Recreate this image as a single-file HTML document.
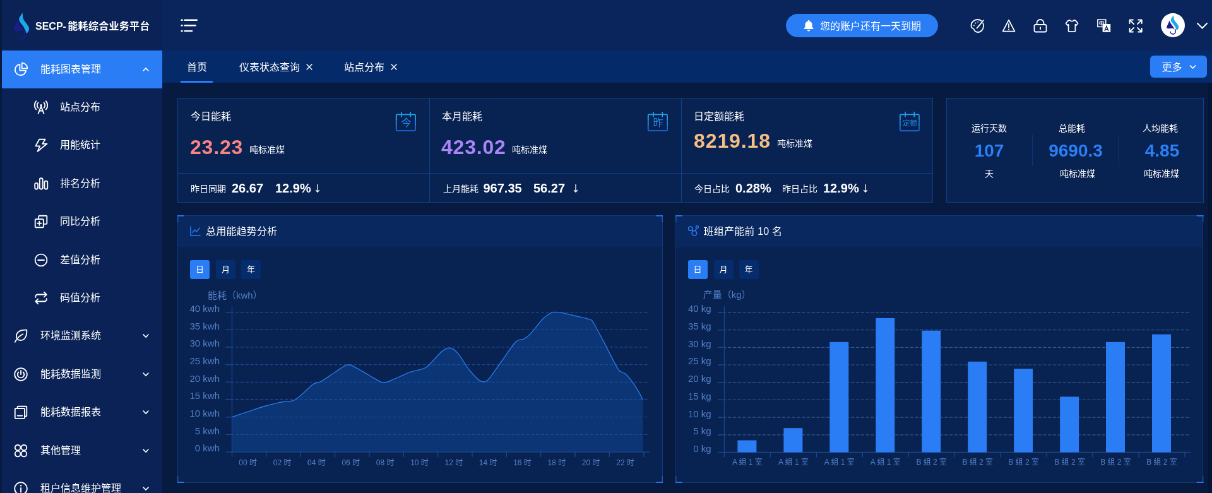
<!DOCTYPE html>
<html lang="zh-CN">
<head>
<meta charset="utf-8">
<title>SECP- 能耗综合业务平台</title>
<style>
*{box-sizing:border-box;margin:0;padding:0}
html,body{width:1212px;height:493px;overflow:hidden;background:#071a40}
body{font-family:"Liberation Sans","Noto Sans CJK SC",sans-serif;color:#fff}
#app{position:absolute;left:0;top:0;width:1920px;height:781px;transform:scale(0.63125);transform-origin:0 0;background:#071a40;overflow:hidden}
#fx{will-change:transform;position:absolute;left:-20px;top:-20px;width:1960px;height:821px;filter:blur(0.45px)}
#stage{position:absolute;left:20px;top:20px;width:1920px;height:781px}
.abs{position:absolute}
/* sidebar */
#side{position:absolute;left:3px;top:-20px;width:254px;height:821px;background:#0a2255;border-top:20px solid #0a2255;border-bottom:20px solid #0a2255}
#logo{position:absolute;left:0;top:0;width:254px;height:80px}
#logo .t{position:absolute;left:53px;top:30px;font-size:16px;line-height:24px;font-weight:bold;white-space:nowrap;letter-spacing:0}
.mi{position:absolute;left:0;width:254px;height:60px;font-size:16px;line-height:60px;white-space:nowrap}
.mi.act{background:#2a7df5}
.mi .tx{position:absolute;left:61px;top:0}
.mi.sub .tx{left:92px}
.mi svg.ic{position:absolute;left:17.5px;top:18px;width:24px;height:24px}
.mi.sub svg.ic{left:49.5px}
.mi svg.ch{position:absolute;left:222px;top:25px;width:12px;height:10px}
/* header */
#head{position:absolute;left:257px;top:-20px;width:1683px;height:100px;background:#09255b;border-top:20px solid #09255b;border-right:20px solid #09255b}
#tabs{position:absolute;left:257px;top:80px;width:1683px;height:51px;border-right:20px solid #042a69;background:#042a69;font-size:16px;line-height:51px}
#tabs .tb{position:absolute;top:0.5px;white-space:nowrap}
#pill{position:absolute;left:988px;top:22px;width:241px;height:37px;border-radius:19px;background:#2a7df5;font-size:16px;line-height:37px}
#pill span{position:absolute;left:54px;top:0.5px;white-space:nowrap}
#more{position:absolute;left:1565px;top:8px;width:90px;height:35px;border-radius:6px;background:#2a7df5;font-size:16px;line-height:35px}
/* cards */
.card{position:absolute;background:#082252;border:1px solid #123f86}
.ct{position:absolute;font-size:16px;line-height:20px;white-space:nowrap}
.big{position:absolute;font-size:32px;line-height:36px;font-weight:bold;white-space:nowrap}
.un{position:absolute;font-size:14px;line-height:18px;white-space:nowrap}
.bn{position:absolute;font-size:20px;line-height:24px;font-weight:bold;white-space:nowrap}
.panel{position:absolute;background:#082252;border:1px solid #103a7d}
.ph{position:absolute;left:0;top:0;right:0;height:50px;background:#09285f}
.ph .t{position:absolute;left:44px;top:0;letter-spacing:0.2px;font-size:16px;line-height:50px;white-space:nowrap}
.btn{position:absolute;top:70px;width:31px;height:30px;border-radius:3px;background:#052c6d;font-size:13px;line-height:30px;text-align:center}
.btn.on{background:#2a7df5}
svg text{font-family:"Liberation Sans","Noto Sans CJK SC",sans-serif}
</style>
</head>
<body>
<div id="app"><div id="fx"><div id="stage">

<!-- SIDEBAR -->
<div id="side">
  <div id="logo">
    <svg class="abs" style="left:6.8px;top:15.5px;width:49px;height:52px" viewBox="0 0 38.28 38.07" preserveAspectRatio="none"><path d="M19.9 2.9 C18.5 6 15.5 8 15.8 10.8 C16.2 14 19 16 21 19 C22.8 21.6 24 24 24.8 27.1 C27.5 25.5 28.6 23 28 20.5 C27 16.5 21.5 13 20.7 9.2 C20.3 7 20.4 5 19.9 2.9 Z" fill="#1fa6ee"/><path d="M13.6 11.6 C12.2 15.5 9.8 19.5 8.8 23.2 C11.5 24.6 15 24.4 17 23.8 C18.6 23.4 20.2 24 21.8 25.8 C20.4 21 14.8 17 13.6 11.6 Z" fill="#1a1d8c"/><path d="M22.6 25.3 C24 28 23.5 31.5 20.5 32.8 C17.5 33.8 14.8 31.8 15 28.6" fill="none" stroke="#1a1d8c" stroke-width="1.5"/></svg>
    <div class="t">SECP-<span style="margin-left:2.4px;letter-spacing:0.3px">能耗综合业务平台</span></div>
  </div>
  <div class="mi act" style="top:80px"><svg class="ic" viewBox="0 0 22 22"><path d="M9.5 3.5 A8 8 0 1 0 18.5 12.5 H9.5 Z" fill="none" stroke="#fff" stroke-width="1.7" stroke-linecap="round" stroke-linejoin="round"/><path d="M12.5 1.5 A8 8 0 0 1 20.5 9.5 H12.5 Z" fill="none" stroke="#fff" stroke-width="1.7" stroke-linecap="round" stroke-linejoin="round"/></svg><span class="tx">能耗图表管理</span><svg class="ch" viewBox="0 0 12 10"><path d="M1.5 7.5 L6 3 L10.5 7.5" fill="none" stroke="#fff" stroke-width="1.7"/></svg></div>
  <div class="mi sub" style="top:140.0px"><svg class="ic" viewBox="0 0 22 22"><path d="M11 9.5 L7 20 M11 9.5 L15 20 M8.6 16 H13.4" fill="none" stroke="#fff" stroke-width="1.7" stroke-linecap="round" stroke-linejoin="round"/><circle cx="11" cy="8" r="1.6" fill="#fff"/><path d="M6.8 4.2 A5.5 5.5 0 0 0 6.8 11.8 M15.2 4.2 A5.5 5.5 0 0 1 15.2 11.8 M3.9 2 A9 9 0 0 0 3.9 14 M18.1 2 A9 9 0 0 1 18.1 14" fill="none" stroke="#fff" stroke-width="1.7" stroke-linecap="round" stroke-linejoin="round" stroke-width="1.4"/></svg><span class="tx">站点分布</span></div>
  <div class="mi sub" style="top:200.4px"><svg class="ic" viewBox="0 0 22 22"><path d="M8.4 2.5 H17 L13 9 H19.6 L6 20 L9.2 12.2 H3.2 Z" fill="none" stroke="#fff" stroke-width="1.7" stroke-linecap="round" stroke-linejoin="round"/></svg><span class="tx">用能统计</span></div>
  <div class="mi sub" style="top:260.8px"><svg class="ic" viewBox="0 0 22 22"><rect x="2" y="10" width="4.4" height="9" rx="2.2" fill="none" stroke="#fff" stroke-width="1.7" stroke-linecap="round" stroke-linejoin="round"/><rect x="9" y="3" width="4.4" height="16" rx="2.2" fill="none" stroke="#fff" stroke-width="1.7" stroke-linecap="round" stroke-linejoin="round"/><rect x="16" y="7" width="4.4" height="12" rx="2.2" fill="none" stroke="#fff" stroke-width="1.7" stroke-linecap="round" stroke-linejoin="round"/></svg><span class="tx">排名分析</span></div>
  <div class="mi sub" style="top:321.2px"><svg class="ic" viewBox="0 0 22 22"><rect x="2.5" y="7.5" width="12" height="12" rx="1" fill="none" stroke="#fff" stroke-width="1.7" stroke-linecap="round" stroke-linejoin="round"/><path d="M7.5 7.5 V3.5 a1 1 0 0 1 1 -1 H18.5 a1 1 0 0 1 1 1 V13.5 a1 1 0 0 1 -1 1 H14.5" fill="none" stroke="#fff" stroke-width="1.7" stroke-linecap="round" stroke-linejoin="round"/><path d="M8.5 10.8 V16.2 M5.8 13.5 H11.2" fill="none" stroke="#fff" stroke-width="1.7" stroke-linecap="round" stroke-linejoin="round"/></svg><span class="tx">同比分析</span></div>
  <div class="mi sub" style="top:381.6px"><svg class="ic" viewBox="0 0 22 22"><circle cx="11" cy="11" r="8.6" fill="none" stroke="#fff" stroke-width="1.7" stroke-linecap="round" stroke-linejoin="round"/><path d="M6.5 11 H15.5" fill="none" stroke="#fff" stroke-width="1.7" stroke-linecap="round" stroke-linejoin="round"/></svg><span class="tx">差值分析</span></div>
  <div class="mi sub" style="top:442.0px"><svg class="ic" viewBox="0 0 22 22"><path d="M3 10 V9 a3 3 0 0 1 3 -3 H18.5 M15.5 2.5 L19 6 L15.5 9.5" fill="none" stroke="#fff" stroke-width="1.7" stroke-linecap="round" stroke-linejoin="round"/><path d="M19 12 V13 a3 3 0 0 1 -3 3 H3.5 M6.5 12.5 L3 16 L6.5 19.5" fill="none" stroke="#fff" stroke-width="1.7" stroke-linecap="round" stroke-linejoin="round"/></svg><span class="tx">码值分析</span></div>
  <div class="mi" style="top:502.4px"><svg class="ic" viewBox="0 0 22 22"><path d="M19.5 2.5 C10 2 4.5 5.5 4.5 11.5 C4.5 15 7 17.5 10.5 17.5 C17 17.5 20 11 19.5 2.5 Z" fill="none" stroke="#fff" stroke-width="1.7" stroke-linecap="round" stroke-linejoin="round"/><path d="M2.5 20 C5 15 9 11 14 8.5" fill="none" stroke="#fff" stroke-width="1.7" stroke-linecap="round" stroke-linejoin="round"/></svg><span class="tx">环境监测系统</span><svg class="ch" viewBox="0 0 12 10"><path d="M1.5 2.5 L6 7 L10.5 2.5" fill="none" stroke="#fff" stroke-width="1.7"/></svg></div>
  <div class="mi" style="top:562.8px"><svg class="ic" viewBox="0 0 22 22"><circle cx="11" cy="11" r="9" fill="none" stroke="#fff" stroke-width="1.7" stroke-linecap="round" stroke-linejoin="round"/><path d="M7.6 7.8 A4.8 4.8 0 1 0 14.4 7.8 M11 5.5 V11" fill="none" stroke="#fff" stroke-width="1.7" stroke-linecap="round" stroke-linejoin="round"/></svg><span class="tx">能耗数据监测</span><svg class="ch" viewBox="0 0 12 10"><path d="M1.5 2.5 L6 7 L10.5 2.5" fill="none" stroke="#fff" stroke-width="1.7"/></svg></div>
  <div class="mi" style="top:623.2px"><svg class="ic" viewBox="0 0 22 22"><path d="M6 5.5 V3.5 a1 1 0 0 1 1 -1 H18.5 a1 1 0 0 1 1 1 V16 a1 1 0 0 1 -1 1 H16.5" fill="none" stroke="#fff" stroke-width="1.7" stroke-linecap="round" stroke-linejoin="round"/><rect x="2.5" y="5.5" width="14" height="14.5" rx="1" fill="none" stroke="#fff" stroke-width="1.7" stroke-linecap="round" stroke-linejoin="round"/><path d="M6 16 H13" fill="none" stroke="#fff" stroke-width="1.7" stroke-linecap="round" stroke-linejoin="round"/></svg><span class="tx">能耗数据报表</span><svg class="ch" viewBox="0 0 12 10"><path d="M1.5 2.5 L6 7 L10.5 2.5" fill="none" stroke="#fff" stroke-width="1.7"/></svg></div>
  <div class="mi" style="top:683.6px"><svg class="ic" viewBox="0 0 22 22"><circle cx="6.5" cy="6.5" r="4" fill="none" stroke="#fff" stroke-width="1.7" stroke-linecap="round" stroke-linejoin="round"/><circle cx="15.5" cy="6.5" r="4" fill="none" stroke="#fff" stroke-width="1.7" stroke-linecap="round" stroke-linejoin="round"/><circle cx="6.5" cy="15.5" r="4" fill="none" stroke="#fff" stroke-width="1.7" stroke-linecap="round" stroke-linejoin="round"/><circle cx="15.5" cy="15.5" r="4" fill="none" stroke="#fff" stroke-width="1.7" stroke-linecap="round" stroke-linejoin="round"/></svg><span class="tx">其他管理</span><svg class="ch" viewBox="0 0 12 10"><path d="M1.5 2.5 L6 7 L10.5 2.5" fill="none" stroke="#fff" stroke-width="1.7"/></svg></div>
  <div class="mi" style="top:744.0px"><svg class="ic" viewBox="0 0 22 22"><circle cx="11" cy="11" r="9" fill="none" stroke="#fff" stroke-width="1.7" stroke-linecap="round" stroke-linejoin="round"/><path d="M11 10 V16" fill="none" stroke="#fff" stroke-width="1.7" stroke-linecap="round" stroke-linejoin="round"/><circle cx="11" cy="6.6" r="1.1" fill="#fff"/></svg><span class="tx">租户信息维护管理</span><svg class="ch" viewBox="0 0 12 10"><path d="M1.5 2.5 L6 7 L10.5 2.5" fill="none" stroke="#fff" stroke-width="1.7"/></svg></div>
</div>

<!-- HEADER -->
<div id="head">
  <svg class="abs" style="left:29px;top:29px;width:27px;height:22px" viewBox="0 0 27 22"><path d="M0.6 2.7 H3.6 M5.5 2.7 H26.7 M0.6 11.2 H3.6 M5.5 11.2 H24.6 M0.6 20.1 H3.6 M5.5 20.1 H19.1" fill="none" stroke="#fff" stroke-width="2.4"/></svg>
  <div id="pill"><svg class="abs" style="left:27px;top:9px;width:18px;height:19px" viewBox="0 0 18 19"><path d="M9 0.8 a1.4 1.4 0 0 1 1.4 1.4 v0.5 a5.6 5.6 0 0 1 4.2 5.4 v3.6 l1.8 2.4 v1 H1.6 v-1 l1.8 -2.4 V8.1 a5.6 5.6 0 0 1 4.2 -5.4 v-0.5 A1.4 1.4 0 0 1 9 0.8 Z M6.6 16.2 h4.8 a2.4 2.4 0 0 1 -4.8 0 Z" fill="#fff"/></svg><span>您的账户还有一天到期</span></div>
  <svg class="abs" style="left:1279.7px;top:29.5px;width:22px;height:22px" viewBox="0 0 22 22"><path d="M17.6 3 C16 1.8 14 1 12 1 C6 1 1.5 5 1.5 10.5 C1.5 12.8 2.2 14 3.4 14.5 C4.8 15 5.6 15.6 6.2 17.2 C7.2 19.6 9.5 21 12 21 C17 21 21 16.6 21 11 C21 9.4 20.7 8 20.1 6.7" fill="none" stroke="#fff" stroke-width="1.8" stroke-linecap="round" stroke-linejoin="round"/><path d="M20.8 2.3 L10.5 14.6" fill="none" stroke="#fff" stroke-width="1.8" stroke-linecap="round" stroke-linejoin="round"/><circle cx="8.4" cy="6.4" r="1" fill="#fff"/><circle cx="5.9" cy="10.2" r="1" fill="#fff"/><circle cx="12.2" cy="4.8" r="0.9" fill="#fff"/></svg>
  <svg class="abs" style="left:1329.6px;top:29.5px;width:22px;height:22px" viewBox="0 0 22 22"><path d="M11 1.6 L20.4 19.6 H1.6 Z" fill="none" stroke="#fff" stroke-width="1.8" stroke-linecap="round" stroke-linejoin="round"/><path d="M11 8 V13.4" fill="none" stroke="#fff" stroke-width="1.8" stroke-linecap="round" stroke-linejoin="round"/><circle cx="11" cy="16.5" r="1.1" fill="#fff"/></svg>
  <svg class="abs" style="left:1380.3px;top:29.5px;width:22px;height:22px" viewBox="0 0 22 22"><rect x="1.5" y="9" width="19" height="11.5" rx="2" fill="none" stroke="#fff" stroke-width="1.8" stroke-linecap="round" stroke-linejoin="round"/><path d="M5.5 9 V6.5 a5.5 5.5 0 0 1 11 0 V9" fill="none" stroke="#fff" stroke-width="1.8" stroke-linecap="round" stroke-linejoin="round"/><path d="M11 13.2 V16.2" fill="none" stroke="#fff" stroke-width="1.8" stroke-linecap="round" stroke-linejoin="round"/></svg>
  <svg class="abs" style="left:1430.2px;top:29.5px;width:22px;height:22px" viewBox="0 0 22 22"><path d="M7.8 1.8 C8.6 4.2 13.4 4.2 14.2 1.8 L17 2.6 L20.6 7 L18 10 L16.4 8.8 V19 Q16.4 20.2 15.2 20.2 H6.8 Q5.6 20.2 5.6 19 V8.8 L4 10 L1.4 7 L5 2.6 Z" fill="none" stroke="#fff" stroke-width="1.8" stroke-linecap="round" stroke-linejoin="round"/></svg>
  <svg class="abs" style="left:1480.9px;top:29.5px;width:22px;height:22px" viewBox="0 0 22 22"><rect x="0.9" y="1.2" width="12.8" height="11.2" fill="none" stroke="#fff" stroke-width="1.6"/><path d="M4 4.6 H10.6 V8 H4 Z M7.3 3 V10.6" fill="none" stroke="#fff" stroke-width="1.1"/><rect x="8.6" y="8" width="12.6" height="12.8" fill="#fff"/><path d="M12 19 L14.9 11.6 L17.8 19 M13 16.6 H16.8" fill="none" stroke="#09255b" stroke-width="1.4"/></svg>
  <svg class="abs" style="left:1530.8px;top:29.5px;width:22px;height:22px" viewBox="0 0 22 22"><path d="M1.5 7 V1.5 H7 M1.8 1.8 L8 8 M15 1.5 H20.5 V7 M20.2 1.8 L14 8 M1.5 15 V20.5 H7 M1.8 20.2 L8 14 M15 20.5 H20.5 V15 M20.2 20.2 L14 14" fill="none" stroke="#fff" stroke-width="1.8" stroke-linecap="round" stroke-linejoin="round"/></svg>
  <svg class="abs" style="left:1581.7px;top:20.8px;width:38px;height:38px" viewBox="0 0 38 38"><circle cx="19" cy="19" r="19" fill="#fff"/><path d="M19.9 2.9 C18.5 6 15.5 8 15.8 10.8 C16.2 14 19 16 21 19 C22.8 21.6 24 24 24.8 27.1 C27.5 25.5 28.6 23 28 20.5 C27 16.5 21.5 13 20.7 9.2 C20.3 7 20.4 5 19.9 2.9 Z" fill="#1fa6ee"/><path d="M13.6 11.6 C12.2 15.5 9.8 19.5 8.8 23.2 C11.5 24.6 15 24.4 17 23.8 C18.6 23.4 20.2 24 21.8 25.8 C20.4 21 14.8 17 13.6 11.6 Z" fill="#1a1d8c"/><path d="M22.6 25.3 C24 28 23.5 31.5 20.5 32.8 C17.5 33.8 14.8 31.8 15 28.6" fill="none" stroke="#1a1d8c" stroke-width="1.5"/></svg>
  <svg class="abs" style="left:1638px;top:35px;width:19px;height:12px" viewBox="0 0 19 12"><path d="M1.5 1.5 L9.5 9.5 L17.5 1.5" fill="none" stroke="#fff" stroke-width="2"/></svg>
</div>

<!-- TABS -->
<div id="tabs">
  <div class="tb" style="left:39px">首页</div>
  <div class="abs" style="left:29px;top:48px;width:51px;height:3px;background:#2a7df5"></div>
  <div class="tb" style="left:122px">仪表状态查询</div><svg class="abs" style="left:227.8px;top:21px;width:10px;height:10px" viewBox="0 0 10 10"><path d="M0.6 0.6 L9.4 9.4 M9.4 0.6 L0.6 9.4" stroke="#fff" stroke-width="1.4" fill="none"/></svg>
  <div class="tb" style="left:288px">站点分布</div><svg class="abs" style="left:362.2px;top:21px;width:10px;height:10px" viewBox="0 0 10 10"><path d="M0.6 0.6 L9.4 9.4 M9.4 0.6 L0.6 9.4" stroke="#fff" stroke-width="1.4" fill="none"/></svg>
  <div id="more"><span class="abs" style="left:18.5px;top:1px">更多</span>
    <svg class="abs" style="left:61.5px;top:14px;width:11px;height:8px" viewBox="0 0 11 8"><path d="M1 1.5 L5.5 6 L10 1.5" fill="none" stroke="#fff" stroke-width="1.6"/></svg>
  </div>
</div>

<div class="abs" style="left:1914px;top:131px;width:26px;height:670px;background:#061637"></div>
<div class="card" style="left:281px;top:155px;width:1197px;height:166px">
<div class="abs" style="left:398px;top:0;width:1px;height:164px;background:#123f86"></div>
<div class="abs" style="left:797px;top:0;width:1px;height:164px;background:#123f86"></div>
<div class="abs" style="left:0;top:118px;width:1195px;height:1px;background:#123f86"></div>
<div class="ct" style="left:20px;top:19px">今日能耗</div>
<div class="big" style="left:19px;top:59px;letter-spacing:0.8px;color:#f98484">23.23</div>
<div class="un" style="left:113px;top:72px">吨标准煤</div>
<svg class="abs" style="left:345px;top:21px;width:32px;height:31px" viewBox="0 0 32 31"><path d="M0.9 13 V5.9 Q0.9 4.4 2.4 4.4 H29.6 Q31.1 4.4 31.1 5.9 V13" fill="none" stroke="#23a2ea" stroke-width="1.7"/><path d="M0.9 13 V22 M31.1 13 V22" fill="none" stroke="#1f88e8" stroke-width="1.7"/><path d="M0.9 22 V28.6 Q0.9 30.1 2.4 30.1 H29.6 Q31.1 30.1 31.1 28.6 V22" fill="none" stroke="#1b70e4" stroke-width="1.7"/><path d="M9 0.3 V8.5 M23.2 0.3 V8.5" stroke="#23a2ea" stroke-width="1.7" fill="none"/><text x="16.5" y="23.2" text-anchor="middle" font-size="16" fill="#1f86e8">今</text></svg>
<div class="un" style="left:20px;top:134px">昨日同期</div>
<div class="bn" style="left:85px;top:130px">26.67</div>
<div class="bn" style="left:154px;top:130px">12.9%</div>
<svg class="abs" style="left:217px;top:135px;width:8px;height:15px" viewBox="0 0 8 15"><path d="M4 1 V13 M1.2 10 L4 13.2 L6.8 10" fill="none" stroke="#fff" stroke-width="1.3"/></svg>
<div class="ct" style="left:418px;top:19px">本月能耗</div>
<div class="big" style="left:417px;top:59px;letter-spacing:0.8px;color:#a985f6">423.02</div>
<div class="un" style="left:529px;top:72px">吨标准煤</div>
<svg class="abs" style="left:744px;top:21px;width:32px;height:31px" viewBox="0 0 32 31"><path d="M0.9 13 V5.9 Q0.9 4.4 2.4 4.4 H29.6 Q31.1 4.4 31.1 5.9 V13" fill="none" stroke="#23a2ea" stroke-width="1.7"/><path d="M0.9 13 V22 M31.1 13 V22" fill="none" stroke="#1f88e8" stroke-width="1.7"/><path d="M0.9 22 V28.6 Q0.9 30.1 2.4 30.1 H29.6 Q31.1 30.1 31.1 28.6 V22" fill="none" stroke="#1b70e4" stroke-width="1.7"/><path d="M9 0.3 V8.5 M23.2 0.3 V8.5" stroke="#23a2ea" stroke-width="1.7" fill="none"/><text x="16.5" y="23.2" text-anchor="middle" font-size="16" fill="#1f86e8">昨</text></svg>
<div class="un" style="left:420px;top:134px">上月能耗</div>
<div class="bn" style="left:483.5px;top:130px">967.35</div>
<div class="bn" style="left:563px;top:130px">56.27</div>
<svg class="abs" style="left:625.5px;top:135px;width:8px;height:15px" viewBox="0 0 8 15"><path d="M4 1 V13 M1.2 10 L4 13.2 L6.8 10" fill="none" stroke="#fff" stroke-width="1.3"/></svg>
<div class="ct" style="left:817px;top:19px">日定额能耗</div>
<div class="big" style="left:817px;top:49px;letter-spacing:0.9px;color:#f5bf85">8219.18</div>
<div class="un" style="left:949px;top:62px">吨标准煤</div>
<svg class="abs" style="left:1143px;top:21px;width:32px;height:31px" viewBox="0 0 32 31"><path d="M0.9 13 V5.9 Q0.9 4.4 2.4 4.4 H29.6 Q31.1 4.4 31.1 5.9 V13" fill="none" stroke="#23a2ea" stroke-width="1.7"/><path d="M0.9 13 V22 M31.1 13 V22" fill="none" stroke="#1f88e8" stroke-width="1.7"/><path d="M0.9 22 V28.6 Q0.9 30.1 2.4 30.1 H29.6 Q31.1 30.1 31.1 28.6 V22" fill="none" stroke="#1b70e4" stroke-width="1.7"/><path d="M9 0.3 V8.5 M23.2 0.3 V8.5" stroke="#23a2ea" stroke-width="1.7" fill="none"/><text x="16.5" y="22" text-anchor="middle" font-size="11.5" fill="#1f86e8">定额</text></svg>
<div class="un" style="left:818px;top:134px">今日占比</div>
<div class="bn" style="left:883px;top:130px">0.28%</div>
<div class="un" style="left:957px;top:134px">昨日占比</div>
<div class="bn" style="left:1022px;top:130px">12.9%</div>
<svg class="abs" style="left:1085px;top:135px;width:8px;height:15px" viewBox="0 0 8 15"><path d="M4 1 V13 M1.2 10 L4 13.2 L6.8 10" fill="none" stroke="#fff" stroke-width="1.3"/></svg>
</div>
<div class="card" style="left:1499px;top:155px;width:408px;height:166px">
<div class="abs" style="left:-1px;top:38px;width:136px;text-align:center;font-size:14px;line-height:18px">运行天数</div>
<div class="abs" style="left:-1px;top:66px;width:136px;text-align:center;font-size:28px;line-height:34px;font-weight:bold;color:#2b80f6">107</div>
<div class="abs" style="left:-1px;top:110px;width:136px;text-align:center;font-size:14px;line-height:18px">天</div>
<div class="abs" style="left:130px;top:38px;width:136px;text-align:center;font-size:14px;line-height:18px">总能耗</div>
<div class="abs" style="left:136px;top:66px;width:136px;text-align:center;font-size:28px;line-height:34px;font-weight:bold;color:#2b80f6">9690.3</div>
<div class="abs" style="left:139px;top:110px;width:136px;text-align:center;font-size:14px;line-height:18px">吨标准煤</div>
<div class="abs" style="left:270px;top:38px;width:136px;text-align:center;font-size:14px;line-height:18px">人均能耗</div>
<div class="abs" style="left:273px;top:66px;width:136px;text-align:center;font-size:28px;line-height:34px;font-weight:bold;color:#2b80f6">4.85</div>
<div class="abs" style="left:272px;top:110px;width:136px;text-align:center;font-size:14px;line-height:18px">吨标准煤</div>
<div class="abs" style="left:135px;top:58px;width:1px;height:49px;background:#0f3878"></div>
<div class="abs" style="left:272px;top:58px;width:1px;height:49px;background:#0f3878"></div>
</div>
<div class="panel" style="left:281px;top:341px;width:769px;height:424px">
<div class="ph"><svg class="abs" style="left:19px;top:16px;width:17px;height:16px" viewBox="0 0 18 17"><path d="M1 0.5 V16 H17.5" fill="none" stroke="#2a7df5" stroke-width="1.6"/><path d="M3.5 11.5 L8 6.5 L11 9.5 L16.5 3" fill="none" stroke="#2a7df5" stroke-width="1.6"/></svg><div class="t">总用能趋势分析</div></div>
<div class="btn on" style="left:19px">日</div><div class="btn" style="left:60px">月</div><div class="btn" style="left:100px">年</div>
<svg class="abs" style="left:-1px;top:-1px;width:769px;height:424px;overflow:visible" viewBox="0 0 769 424"><path d="M0.8 -0.09999999999999998 V10.8" fill="none" stroke="#2a7df5" stroke-opacity="0.55" stroke-width="1.4"/><path d="M-0.09999999999999998 0.8 H10.8" fill="none" stroke="#2a7df5" stroke-width="1.6"/><path d="M768.2 -0.09999999999999998 V10.8" fill="none" stroke="#2a7df5" stroke-opacity="0.55" stroke-width="1.4"/><path d="M769.1 0.8 H758.2" fill="none" stroke="#2a7df5" stroke-width="1.6"/><path d="M0.8 424.09999999999997 V413.2" fill="none" stroke="#2a7df5" stroke-opacity="0.55" stroke-width="1.4"/><path d="M-0.09999999999999998 423.2 H10.8" fill="none" stroke="#2a7df5" stroke-width="1.6"/><path d="M768.2 424.09999999999997 V413.2" fill="none" stroke="#2a7df5" stroke-opacity="0.55" stroke-width="1.4"/><path d="M769.1 423.2 H758.2" fill="none" stroke="#2a7df5" stroke-width="1.6"/></svg>
<svg class="abs" style="left:-1px;top:-1px;width:769px;height:424px" viewBox="281 341 769 424"><text x="372.3" y="472.8" text-anchor="middle" font-size="15" fill="#5480c6">能耗（kwh）</text><text x="348.0" y="715.5" text-anchor="end" font-size="15" fill="#5480c6">0 kwh</text><path d="M357.5 688.4 H1029.1" stroke="#1f4b8f" stroke-width="1.3" stroke-dasharray="5 2.8" fill="none"/><path d="M357.5 688.4 H367.5" stroke="#1b4788" stroke-width="1.4" fill="none"/><text x="348.0" y="687.9" text-anchor="end" font-size="15" fill="#5480c6">5 kwh</text><path d="M357.5 660.7 H1029.1" stroke="#1f4b8f" stroke-width="1.3" stroke-dasharray="5 2.8" fill="none"/><path d="M357.5 660.7 H367.5" stroke="#1b4788" stroke-width="1.4" fill="none"/><text x="348.0" y="660.2" text-anchor="end" font-size="15" fill="#5480c6">10 kwh</text><path d="M357.5 633.0 H1029.1" stroke="#1f4b8f" stroke-width="1.3" stroke-dasharray="5 2.8" fill="none"/><path d="M357.5 633.0 H367.5" stroke="#1b4788" stroke-width="1.4" fill="none"/><text x="348.0" y="632.5" text-anchor="end" font-size="15" fill="#5480c6">15 kwh</text><path d="M357.5 605.3 H1029.1" stroke="#1f4b8f" stroke-width="1.3" stroke-dasharray="5 2.8" fill="none"/><path d="M357.5 605.3 H367.5" stroke="#1b4788" stroke-width="1.4" fill="none"/><text x="348.0" y="604.8" text-anchor="end" font-size="15" fill="#5480c6">20 kwh</text><path d="M357.5 577.6 H1029.1" stroke="#1f4b8f" stroke-width="1.3" stroke-dasharray="5 2.8" fill="none"/><path d="M357.5 577.6 H367.5" stroke="#1b4788" stroke-width="1.4" fill="none"/><text x="348.0" y="577.1" text-anchor="end" font-size="15" fill="#5480c6">25 kwh</text><path d="M357.5 549.9 H1029.1" stroke="#1f4b8f" stroke-width="1.3" stroke-dasharray="5 2.8" fill="none"/><path d="M357.5 549.9 H367.5" stroke="#1b4788" stroke-width="1.4" fill="none"/><text x="348.0" y="549.4" text-anchor="end" font-size="15" fill="#5480c6">30 kwh</text><path d="M357.5 522.3 H1029.1" stroke="#1f4b8f" stroke-width="1.3" stroke-dasharray="5 2.8" fill="none"/><path d="M357.5 522.3 H367.5" stroke="#1b4788" stroke-width="1.4" fill="none"/><text x="348.0" y="521.8" text-anchor="end" font-size="15" fill="#5480c6">35 kwh</text><path d="M357.5 494.6 H1029.1" stroke="#1f4b8f" stroke-width="1.3" stroke-dasharray="5 2.8" fill="none"/><path d="M357.5 494.6 H367.5" stroke="#1b4788" stroke-width="1.4" fill="none"/><text x="348.0" y="494.1" text-anchor="end" font-size="15" fill="#5480c6">40 kwh</text><path d="M367.5 484.6 V716.0" stroke="#18458a" stroke-width="1.4" fill="none"/><path d="M367.5 660.6 C372.6 658.9 389.7 653.1 398.3 650.3 C406.9 647.4 412.2 645.5 419.2 643.5 C426.1 641.5 434.4 639.4 440.1 638.1 C445.7 636.8 449.2 636.4 453.1 635.9 C457.0 635.4 460.3 635.8 463.4 634.9 C466.4 634.0 468.1 633.0 471.4 630.5 C474.7 628.0 479.0 623.9 483.2 620.2 C487.3 616.5 492.5 610.8 496.5 608.3 C500.4 605.8 503.7 606.6 506.9 605.1 C510.1 603.7 511.4 602.5 515.6 599.8 C519.9 597.0 526.4 592.2 532.3 588.5 C538.1 584.9 545.3 578.7 550.8 577.9 C556.4 577.1 559.9 580.7 565.5 583.4 C571.2 586.2 578.0 590.8 584.6 594.5 C591.2 598.3 599.9 604.2 605.1 605.8 C610.4 607.4 611.5 605.6 616.2 604.0 C621.0 602.5 628.1 598.8 633.7 596.4 C639.2 594.0 643.4 591.7 649.5 589.6 C655.6 587.6 665.2 586.0 670.1 584.2 C675.0 582.4 675.6 581.6 678.8 578.9 C682.0 576.1 685.3 571.8 689.1 567.9 C692.9 564.0 697.7 558.2 701.6 555.4 C705.6 552.6 709.0 550.7 712.9 551.3 C716.7 551.9 719.5 553.1 724.6 558.9 C729.7 564.7 737.9 578.9 743.4 586.0 C749.0 593.1 754.2 598.4 758.0 601.5 C761.8 604.6 763.6 605.1 766.4 604.8 C769.2 604.5 770.3 605.0 774.8 599.8 C779.4 594.5 787.0 582.7 793.7 573.5 C800.3 564.2 809.7 550.0 814.6 544.2 C819.4 538.3 820.4 539.4 822.8 538.3 C825.2 537.2 826.3 538.8 829.1 537.3 C831.9 535.9 834.4 535.0 839.6 529.6 C844.8 524.1 854.9 510.2 860.5 504.6 C866.1 498.9 869.9 497.4 873.0 495.7 C876.1 494.0 876.4 494.5 879.2 494.4 C882.0 494.4 884.4 494.4 889.7 495.4 C894.9 496.3 903.2 498.5 910.6 500.3 C917.9 502.0 928.8 504.0 933.7 505.8 C938.6 507.6 936.1 505.0 939.9 511.0 C943.7 517.1 950.4 530.3 956.7 542.1 C962.9 553.9 972.9 574.0 977.4 581.9 C981.9 589.7 981.7 587.3 983.8 589.0 C985.9 590.7 987.6 589.9 990.1 591.8 C992.6 593.8 995.0 596.1 998.5 600.7 C1002.0 605.3 1007.7 614.0 1011.0 619.4 C1014.3 624.8 1017.2 630.9 1018.5 633.2 L1018.5 716.0 L367.5 716.0 Z" fill="#1450a8" fill-opacity="0.42"/><path d="M367.5 660.6 C372.6 658.9 389.7 653.1 398.3 650.3 C406.9 647.4 412.2 645.5 419.2 643.5 C426.1 641.5 434.4 639.4 440.1 638.1 C445.7 636.8 449.2 636.4 453.1 635.9 C457.0 635.4 460.3 635.8 463.4 634.9 C466.4 634.0 468.1 633.0 471.4 630.5 C474.7 628.0 479.0 623.9 483.2 620.2 C487.3 616.5 492.5 610.8 496.5 608.3 C500.4 605.8 503.7 606.6 506.9 605.1 C510.1 603.7 511.4 602.5 515.6 599.8 C519.9 597.0 526.4 592.2 532.3 588.5 C538.1 584.9 545.3 578.7 550.8 577.9 C556.4 577.1 559.9 580.7 565.5 583.4 C571.2 586.2 578.0 590.8 584.6 594.5 C591.2 598.3 599.9 604.2 605.1 605.8 C610.4 607.4 611.5 605.6 616.2 604.0 C621.0 602.5 628.1 598.8 633.7 596.4 C639.2 594.0 643.4 591.7 649.5 589.6 C655.6 587.6 665.2 586.0 670.1 584.2 C675.0 582.4 675.6 581.6 678.8 578.9 C682.0 576.1 685.3 571.8 689.1 567.9 C692.9 564.0 697.7 558.2 701.6 555.4 C705.6 552.6 709.0 550.7 712.9 551.3 C716.7 551.9 719.5 553.1 724.6 558.9 C729.7 564.7 737.9 578.9 743.4 586.0 C749.0 593.1 754.2 598.4 758.0 601.5 C761.8 604.6 763.6 605.1 766.4 604.8 C769.2 604.5 770.3 605.0 774.8 599.8 C779.4 594.5 787.0 582.7 793.7 573.5 C800.3 564.2 809.7 550.0 814.6 544.2 C819.4 538.3 820.4 539.4 822.8 538.3 C825.2 537.2 826.3 538.8 829.1 537.3 C831.9 535.9 834.4 535.0 839.6 529.6 C844.8 524.1 854.9 510.2 860.5 504.6 C866.1 498.9 869.9 497.4 873.0 495.7 C876.1 494.0 876.4 494.5 879.2 494.4 C882.0 494.4 884.4 494.4 889.7 495.4 C894.9 496.3 903.2 498.5 910.6 500.3 C917.9 502.0 928.8 504.0 933.7 505.8 C938.6 507.6 936.1 505.0 939.9 511.0 C943.7 517.1 950.4 530.3 956.7 542.1 C962.9 553.9 972.9 574.0 977.4 581.9 C981.9 589.7 981.7 587.3 983.8 589.0 C985.9 590.7 987.6 589.9 990.1 591.8 C992.6 593.8 995.0 596.1 998.5 600.7 C1002.0 605.3 1007.7 614.0 1011.0 619.4 C1014.3 624.8 1017.2 630.9 1018.5 633.2" fill="none" stroke="#2a78e6" stroke-width="1.4"/><path d="M357.5 716.0 H1029.1" stroke="#1b4788" stroke-width="1.4" fill="none"/><path d="M367.5 716.0 v8" stroke="#1b4788" stroke-width="1.4" fill="none"/><text x="392.7" y="736.6" text-anchor="middle" font-size="12" fill="#5480c6">00 时</text><path d="M421.9 716.0 v8" stroke="#1b4788" stroke-width="1.4" fill="none"/><text x="447.1" y="736.6" text-anchor="middle" font-size="12" fill="#5480c6">02 时</text><path d="M476.2 716.0 v8" stroke="#1b4788" stroke-width="1.4" fill="none"/><text x="501.4" y="736.6" text-anchor="middle" font-size="12" fill="#5480c6">04 时</text><path d="M530.6 716.0 v8" stroke="#1b4788" stroke-width="1.4" fill="none"/><text x="555.8" y="736.6" text-anchor="middle" font-size="12" fill="#5480c6">06 时</text><path d="M584.9 716.0 v8" stroke="#1b4788" stroke-width="1.4" fill="none"/><text x="610.1" y="736.6" text-anchor="middle" font-size="12" fill="#5480c6">08 时</text><path d="M639.3 716.0 v8" stroke="#1b4788" stroke-width="1.4" fill="none"/><text x="664.5" y="736.6" text-anchor="middle" font-size="12" fill="#5480c6">10 时</text><path d="M693.6 716.0 v8" stroke="#1b4788" stroke-width="1.4" fill="none"/><text x="718.8" y="736.6" text-anchor="middle" font-size="12" fill="#5480c6">12 时</text><path d="M748.0 716.0 v8" stroke="#1b4788" stroke-width="1.4" fill="none"/><text x="773.2" y="736.6" text-anchor="middle" font-size="12" fill="#5480c6">14 时</text><path d="M802.3 716.0 v8" stroke="#1b4788" stroke-width="1.4" fill="none"/><text x="827.5" y="736.6" text-anchor="middle" font-size="12" fill="#5480c6">16 时</text><path d="M856.7 716.0 v8" stroke="#1b4788" stroke-width="1.4" fill="none"/><text x="881.9" y="736.6" text-anchor="middle" font-size="12" fill="#5480c6">18 时</text><path d="M911.0 716.0 v8" stroke="#1b4788" stroke-width="1.4" fill="none"/><text x="936.2" y="736.6" text-anchor="middle" font-size="12" fill="#5480c6">20 时</text><path d="M965.4 716.0 v8" stroke="#1b4788" stroke-width="1.4" fill="none"/><text x="990.6" y="736.6" text-anchor="middle" font-size="12" fill="#5480c6">22 时</text><path d="M1019.8 716.0 v8" stroke="#1b4788" stroke-width="1.4" fill="none"/></svg>
</div>
<div class="panel" style="left:1069.5px;top:341px;width:836.5px;height:424px">
<div class="ph"><svg class="abs" style="left:18.7px;top:15.4px;width:19px;height:17px" viewBox="0 0 19 17"><circle cx="4.7" cy="5.1" r="3.2" fill="none" stroke="#2a7df5" stroke-width="1.5"/><circle cx="15.4" cy="2.6" r="2" fill="none" stroke="#2a7df5" stroke-width="1.4"/><circle cx="10.9" cy="12.2" r="3.8" fill="none" stroke="#2a7df5" stroke-width="1.5"/><path d="M7.2 7.2 L8.6 9.2 M14.4 4.4 L12.4 8.6" fill="none" stroke="#2a7df5" stroke-width="1.5"/></svg><div class="t">班组产能前 10 名</div></div>
<div class="btn on" style="left:19px">日</div><div class="btn" style="left:60px">月</div><div class="btn" style="left:100px">年</div>
<svg class="abs" style="left:-1px;top:-1px;width:836.5px;height:424px;overflow:visible" viewBox="0 0 836.5 424"><path d="M0.8 -0.09999999999999998 V10.8" fill="none" stroke="#2a7df5" stroke-opacity="0.55" stroke-width="1.4"/><path d="M-0.09999999999999998 0.8 H10.8" fill="none" stroke="#2a7df5" stroke-width="1.6"/><path d="M835.7 -0.09999999999999998 V10.8" fill="none" stroke="#2a7df5" stroke-opacity="0.55" stroke-width="1.4"/><path d="M836.6 0.8 H825.7" fill="none" stroke="#2a7df5" stroke-width="1.6"/><path d="M0.8 424.09999999999997 V413.2" fill="none" stroke="#2a7df5" stroke-opacity="0.55" stroke-width="1.4"/><path d="M-0.09999999999999998 423.2 H10.8" fill="none" stroke="#2a7df5" stroke-width="1.6"/><path d="M835.7 424.09999999999997 V413.2" fill="none" stroke="#2a7df5" stroke-opacity="0.55" stroke-width="1.4"/><path d="M836.6 423.2 H825.7" fill="none" stroke="#2a7df5" stroke-width="1.6"/></svg>
<svg class="abs" style="left:-1px;top:-1px;width:836.5px;height:424px" viewBox="1069.5 341 836.5 424"><text x="1151.1" y="472.0" text-anchor="middle" font-size="15" fill="#5480c6">产量（kg）</text><text x="1126.1" y="716.0" text-anchor="end" font-size="15" fill="#5480c6">0 kg</text><path d="M1136.9 688.8 H1886.1" stroke="#33568d" stroke-width="1.2" stroke-dasharray="5.4 2.4" fill="none"/><path d="M1136.9 688.8 H1146.9" stroke="#1b4788" stroke-width="1.4" fill="none"/><text x="1126.1" y="688.3" text-anchor="end" font-size="15" fill="#5480c6">5 kg</text><path d="M1136.9 661.1 H1886.1" stroke="#33568d" stroke-width="1.2" stroke-dasharray="5.4 2.4" fill="none"/><path d="M1136.9 661.1 H1146.9" stroke="#1b4788" stroke-width="1.4" fill="none"/><text x="1126.1" y="660.6" text-anchor="end" font-size="15" fill="#5480c6">10 kg</text><path d="M1136.9 633.4 H1886.1" stroke="#33568d" stroke-width="1.2" stroke-dasharray="5.4 2.4" fill="none"/><path d="M1136.9 633.4 H1146.9" stroke="#1b4788" stroke-width="1.4" fill="none"/><text x="1126.1" y="632.9" text-anchor="end" font-size="15" fill="#5480c6">15 kg</text><path d="M1136.9 605.7 H1886.1" stroke="#33568d" stroke-width="1.2" stroke-dasharray="5.4 2.4" fill="none"/><path d="M1136.9 605.7 H1146.9" stroke="#1b4788" stroke-width="1.4" fill="none"/><text x="1126.1" y="605.2" text-anchor="end" font-size="15" fill="#5480c6">20 kg</text><path d="M1136.9 578.0 H1886.1" stroke="#33568d" stroke-width="1.2" stroke-dasharray="5.4 2.4" fill="none"/><path d="M1136.9 578.0 H1146.9" stroke="#1b4788" stroke-width="1.4" fill="none"/><text x="1126.1" y="577.5" text-anchor="end" font-size="15" fill="#5480c6">25 kg</text><path d="M1136.9 550.3 H1886.1" stroke="#33568d" stroke-width="1.2" stroke-dasharray="5.4 2.4" fill="none"/><path d="M1136.9 550.3 H1146.9" stroke="#1b4788" stroke-width="1.4" fill="none"/><text x="1126.1" y="549.8" text-anchor="end" font-size="15" fill="#5480c6">30 kg</text><path d="M1136.9 522.6 H1886.1" stroke="#33568d" stroke-width="1.2" stroke-dasharray="5.4 2.4" fill="none"/><path d="M1136.9 522.6 H1146.9" stroke="#1b4788" stroke-width="1.4" fill="none"/><text x="1126.1" y="522.1" text-anchor="end" font-size="15" fill="#5480c6">35 kg</text><path d="M1136.9 494.9 H1886.1" stroke="#33568d" stroke-width="1.2" stroke-dasharray="5.4 2.4" fill="none"/><path d="M1136.9 494.9 H1146.9" stroke="#1b4788" stroke-width="1.4" fill="none"/><text x="1126.1" y="494.4" text-anchor="end" font-size="15" fill="#5480c6">40 kg</text><path d="M1146.9 484.9 V716.5" stroke="#18458a" stroke-width="1.4" fill="none"/><path d="M1136.9 716.5 H1886.1" stroke="#1b4788" stroke-width="1.4" fill="none"/><path d="M1146.9 716.5 v8" stroke="#1b4788" stroke-width="1.4" fill="none"/><path d="M1219.9 716.5 v8" stroke="#1b4788" stroke-width="1.4" fill="none"/><path d="M1292.8 716.5 v8" stroke="#1b4788" stroke-width="1.4" fill="none"/><path d="M1365.8 716.5 v8" stroke="#1b4788" stroke-width="1.4" fill="none"/><path d="M1438.7 716.5 v8" stroke="#1b4788" stroke-width="1.4" fill="none"/><path d="M1511.7 716.5 v8" stroke="#1b4788" stroke-width="1.4" fill="none"/><path d="M1584.6 716.5 v8" stroke="#1b4788" stroke-width="1.4" fill="none"/><path d="M1657.6 716.5 v8" stroke="#1b4788" stroke-width="1.4" fill="none"/><path d="M1730.5 716.5 v8" stroke="#1b4788" stroke-width="1.4" fill="none"/><path d="M1803.5 716.5 v8" stroke="#1b4788" stroke-width="1.4" fill="none"/><path d="M1876.4 716.5 v8" stroke="#1b4788" stroke-width="1.4" fill="none"/><rect x="1167.9" y="697.5" width="30" height="19.0" fill="#2a7df5"/><text x="1183.4" y="736.2" text-anchor="middle" font-size="12" fill="#5480c6">A 组 1 室</text><rect x="1240.9" y="678.2" width="30" height="38.3" fill="#2a7df5"/><text x="1256.4" y="736.2" text-anchor="middle" font-size="12" fill="#5480c6">A 组 1 室</text><rect x="1313.8" y="541.8" width="30" height="174.7" fill="#2a7df5"/><text x="1329.3" y="736.2" text-anchor="middle" font-size="12" fill="#5480c6">A 组 1 室</text><rect x="1386.8" y="503.9" width="30" height="212.6" fill="#2a7df5"/><text x="1402.3" y="736.2" text-anchor="middle" font-size="12" fill="#5480c6">A 组 1 室</text><rect x="1459.7" y="523.7" width="30" height="192.8" fill="#2a7df5"/><text x="1475.2" y="736.2" text-anchor="middle" font-size="12" fill="#5480c6">B 组 2 室</text><rect x="1532.7" y="572.8" width="30" height="143.7" fill="#2a7df5"/><text x="1548.2" y="736.2" text-anchor="middle" font-size="12" fill="#5480c6">B 组 2 室</text><rect x="1605.6" y="584.1" width="30" height="132.4" fill="#2a7df5"/><text x="1621.1" y="736.2" text-anchor="middle" font-size="12" fill="#5480c6">B 组 2 室</text><rect x="1678.6" y="628.4" width="30" height="88.1" fill="#2a7df5"/><text x="1694.1" y="736.2" text-anchor="middle" font-size="12" fill="#5480c6">B 组 2 室</text><rect x="1751.5" y="541.8" width="30" height="174.7" fill="#2a7df5"/><text x="1767.0" y="736.2" text-anchor="middle" font-size="12" fill="#5480c6">B 组 2 室</text><rect x="1824.5" y="529.6" width="30" height="186.9" fill="#2a7df5"/><text x="1840.0" y="736.2" text-anchor="middle" font-size="12" fill="#5480c6">B 组 2 室</text></svg>
</div>

</div></div></div>
</body>
</html>
